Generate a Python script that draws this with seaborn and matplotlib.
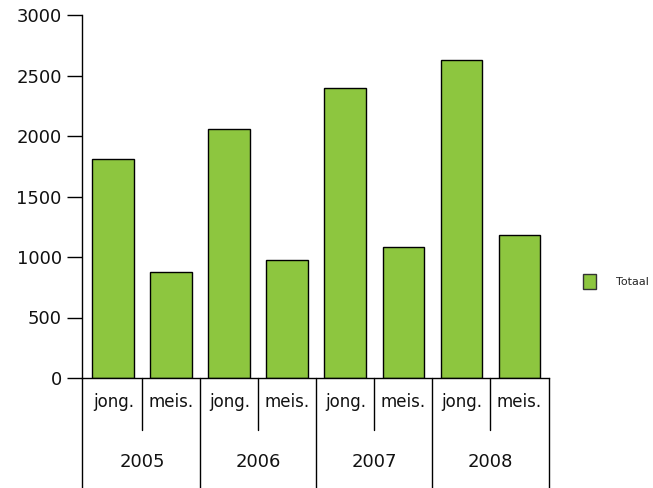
import matplotlib
matplotlib.use("Agg")
import matplotlib.pyplot as plt
import matplotlib.transforms as mtransforms
from matplotlib.patches import Patch
import seaborn as sns
import pandas as pd

years = ["2005", "2006", "2007", "2008"]
groups = ["jong.", "meis."]
values = [1810, 880, 2060, 975, 2395, 1085, 2630, 1180]
yticks = [0, 500, 1000, 1500, 2000, 2500, 3000]
series_name = "Totaal"

labels = [f"{y} {g}" for y in years for g in groups]
df = pd.DataFrame({"label": labels, "value": values})

sns.set_theme(style="white")
plt.rcParams["font.family"] = ["DejaVu Sans"]

fig = plt.figure(figsize=(6.53, 4.88), dpi=100)
ax = fig.add_axes([82/653, 1-378/488, (549-82)/653, (378-15)/488])

color = "#8DC63F"
sns.barplot(data=df, x="label", y="value", color=color, width=0.72,
            edgecolor="black", linewidth=1, ax=ax, saturation=1)

ax.set_xlim(-0.54, 7.51)
ax.set_ylim(0, 3000)
ax.set_yticks(yticks)
ax.set_yticklabels([str(t) for t in yticks], fontsize=13, color="#111111")
ax.tick_params(axis="y", direction="out", length=11, width=1, color="black", pad=3.5, left=True)
ax.set_xlabel("")
ax.set_ylabel("")
ax.set_xticks(range(len(labels)))
ax.set_xticklabels([g for y in years for g in groups], fontsize=12, color="#111111")
ax.tick_params(axis="x", length=0, pad=11)

for s in ["top", "right"]:
    ax.spines[s].set_visible(False)
for s in ["left", "bottom"]:
    ax.spines[s].set_color("black")
    ax.spines[s].set_linewidth(1)

trans = mtransforms.blended_transform_factory(ax.transData, ax.transAxes)
# group boundaries
for xa in [0, 1]:
    ax.plot([xa, xa], [0, -0.31], transform=ax.transAxes, color="black", lw=1, clip_on=False)
for xb in [1.5, 3.5, 5.5]:
    ax.plot([xb, xb], [0, -0.31], transform=trans, color="black", lw=1, clip_on=False)
for xb in [0.5, 2.5, 4.5, 6.5]:
    ax.plot([xb, xb], [0, -0.143], transform=trans, color="black", lw=1, clip_on=False)
for i, y in enumerate(years):
    ax.text(2*i + 0.5, -0.231, y, transform=trans, ha="center", va="center",
            fontsize=13, color="#111111")

handles = [Patch(facecolor=color, edgecolor="#333333", linewidth=1, label=series_name)]
fig.legend(handles=handles, loc="center left", bbox_to_anchor=(0.878, 0.423),
           frameon=False, fontsize=8, handlelength=1.1, handleheight=1.6,
           handletextpad=1.8)

fig.savefig("out.png", dpi=100)
